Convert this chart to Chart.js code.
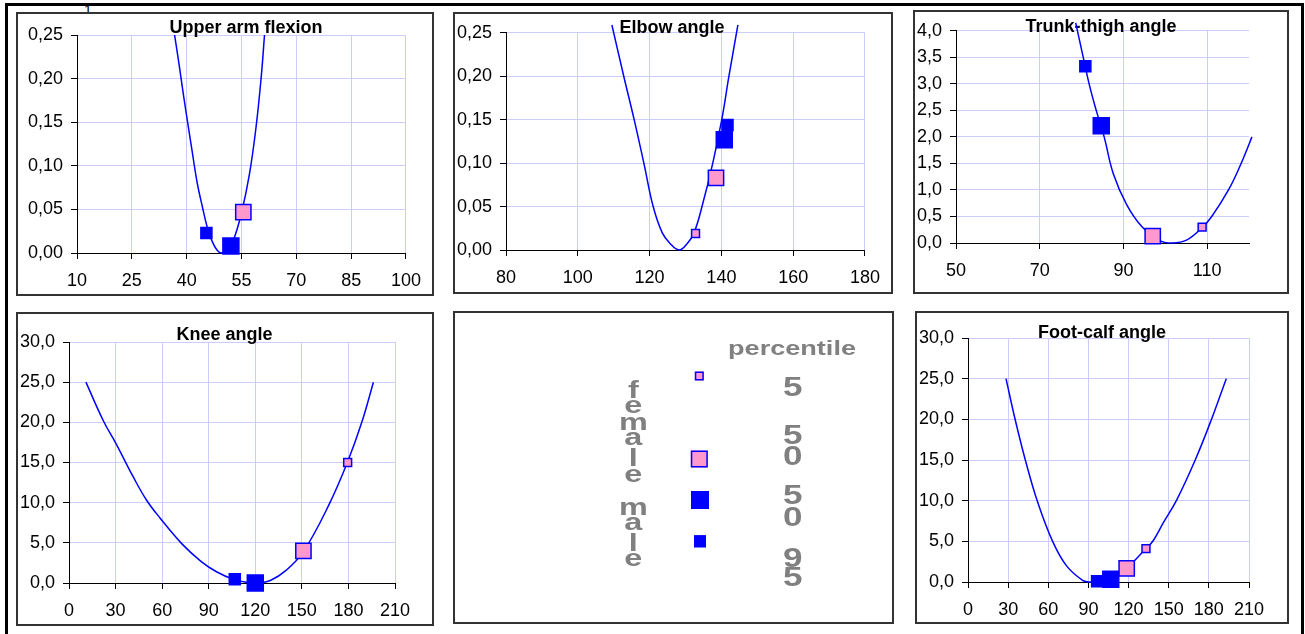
<!DOCTYPE html>
<html>
<head>
<meta charset="utf-8">
<script src="https://cdn.jsdelivr.net/npm/chart.js@4.4.1/dist/chart.umd.min.js"></script>
<style>
  html, body { margin:0; padding:0; background:#fff; }
  body { width:1305px; height:634px; overflow:hidden; position:relative; font-family:"Liberation Sans", Arial, sans-serif; }
  .frame { position:absolute; left:5px; top:3px; width:1299px; height:700px; box-sizing:border-box;
           border-top:3px solid #000; border-left:3px solid #000; border-right:3px solid #000; }
  .panel { position:absolute; box-sizing:border-box; border:2px solid #333; background:#fff; }
  .panel canvas { display:block; }
  .one { position:absolute; left:84px; top:3px; font-size:14px; line-height:14px; color:#000; }
</style>
</head>
<body>
<div class="frame"></div>
<div class="one">1</div>
<div class="panel" style="left:16px;top:12px;width:418px;height:284px"><canvas id="c1" width="414" height="280"></canvas></div>
<div class="panel" style="left:453px;top:12px;width:440px;height:282px"><canvas id="c2" width="436" height="278"></canvas></div>
<div class="panel" style="left:913px;top:10px;width:376px;height:284px"><canvas id="c3" width="372" height="280"></canvas></div>
<div class="panel" style="left:16px;top:312px;width:418px;height:314px"><canvas id="c4" width="414" height="310"></canvas></div>
<div class="panel" style="left:453px;top:311px;width:441px;height:313px"><canvas id="leg" width="437" height="309"></canvas></div>
<div class="panel" style="left:915px;top:311px;width:374px;height:313px"><canvas id="c6" width="370" height="309"></canvas></div>
<script>
// ---------------- DATA ----------------
// marker order in every *Markers array: [female 5th, female 50th, male 50th, male 95th]
const titles = ["Upper arm flexion", "Elbow angle", "Trunk-thigh angle", "Knee angle", "Foot-calf angle"];

const upperArmCurve = [[36.7,0.25],[38.0,0.214],[39.2,0.179],[40.3,0.149],[41.6,0.114],[42.9,0.080],[44.3,0.053],[45.6,0.030],[47.0,0.013],[48.3,0.0034],[49.4,0],[51.0,0.003],[52.8,0.015],[55.0,0.046],[57.2,0.091],[59.0,0.145],[60.4,0.202],[61.3,0.25]];
const upperArmMarkers = [null, [55.5,0.047], [52.1,0.008], [45.4,0.023]];
const upperArmXTicks = [10, 25, 40, 55, 70, 85, 100];

const elbowCurve = [[109.5,0.259],[112.8,0.20],[115.7,0.15],[118.4,0.10],[121.0,0.05],[123.5,0.02],[125.7,0.0075],[128.2,0],[130.5,0.0075],[132.4,0.02],[134.6,0.05],[137.6,0.10],[140.1,0.15],[142.1,0.20],[144.6,0.259]];
const elbowMarkers = [[132.8,0.019], [138.5,0.083], [140.8,0.127], [141.7,0.144]];
const elbowXTicks = [80, 100, 120, 140, 160, 180];

const trunkCurve = [[78.6,4.15],[80.4,3.5],[81.8,3.0],[83.5,2.5],[85.4,2.0],[87.6,1.3],[90.8,0.72],[94.5,0.3],[98.5,0.05],[101.6,0],[105.2,0.06],[108.8,0.29],[111.1,0.5],[115.1,1.0],[117.9,1.46],[120.7,2.0],[122.1,2.29]];
const trunkMarkers = [[108.8,0.30], [97.0,0.13], [84.7,2.21], [80.9,3.33]];
const trunkXTicks = [50, 70, 90, 110];

const kneeCurve = [[10.9,25],[22.1,20.2],[30.7,17.2],[41.4,13.2],[50,10.3],[58.6,8.1],[72.6,4.9],[85,2.7],[95,1.4],[106,0.45],[114,0.1],[121,0],[130,0.35],[140,1.6],[151,3.9],[167.1,9.6],[179.3,15],[188.6,20],[196.1,25]];
const kneeMarkers = [[179.5,15.0], [151,4.0], [120,0.0], [106.8,0.46]];
const kneeXTicks = [0, 30, 60, 90, 120, 150, 180, 210];

const footCurve = [[28.4,25],[35.5,19.8],[43.5,14.6],[52.3,9.7],[63.5,4.9],[73.8,1.95],[86.2,0.15],[91.2,0],[96,0.05],[103.1,0.33],[110.5,0.9],[118.6,1.75],[126,2.9],[133,4.1],[138.5,5.1],[146,7.3],[156,10.1],[169.8,15],[181.5,19.8],[193,25]];
const footMarkers = [[133,4.1], [118.6,1.68], [106.7,0.33], [96.5,0.08]];
const footXTicks = [0, 30, 60, 90, 120, 150, 180, 210];

const legendPercentiles = ["5", "50", "50", "95"];
const legendGroups = ["female", "male"];

// ---------------- STYLE ----------------
const FONT = '"Liberation Sans", Arial, sans-serif';
const BLUE = '#0000ff';
const PINK = '#ff99cc';
const markerStyles = [
  { bg: PINK, r: 5.6 },
  { bg: PINK, r: 10.8 },
  { bg: BLUE, r: 11.3 },
  { bg: BLUE, r: 7.8 }
];

const titlePlugin = {
  id: 'ptitle',
  beforeDatasetsDraw(chart, args, opts) {
    const ctx = chart.ctx;
    ctx.save();
    ctx.font = 'bold 18px ' + FONT;
    ctx.fillStyle = '#000';
    ctx.textAlign = 'center';
    ctx.textBaseline = 'middle';
    ctx.fillText(opts.text, opts.x, opts.y);
    ctx.restore();
  }
};

function makeChart(id, o) {
  const datasets = [];
  o.markers.forEach((m, i) => {
    if (!m) return;
    datasets.push({
      data: [{ x: m[0], y: m[1] }],
      pointStyle: 'rect',
      pointRadius: markerStyles[i].r,
      pointHoverRadius: markerStyles[i].r,
      pointBackgroundColor: markerStyles[i].bg,
      pointBorderColor: BLUE,
      pointBorderWidth: 1.5,
      clip: false,
      order: i + 1
    });
  });
  datasets.push({
    data: o.curve.map(p => ({ x: p[0], y: p[1] })),
    showLine: true,
    borderColor: BLUE,
    borderWidth: 1.5,
    pointRadius: 0,
    pointHoverRadius: 0,
    tension: 0.4,
    clip: false,
    order: 10
  });
  return new Chart(document.getElementById(id), {
    type: 'scatter',
    data: { datasets },
    options: {
      responsive: false,
      animation: false,
      devicePixelRatio: 1,
      events: [],
      layout: { padding: { left: 0, top: o.top, right: o.right, bottom: 0 } },
      plugins: {
        legend: { display: false },
        tooltip: { enabled: false },
        ptitle: { text: o.title, x: o.tx, y: o.ty }
      },
      scales: {
        x: {
          type: 'linear', min: o.xmin, max: o.xmax,
          afterFit: s => { s.height = o.xh; },
          afterBuildTicks: s => { s.ticks = o.xticks.map(v => ({ value: v })); },
          ticks: { autoSkip: false, maxRotation: 0,
                   font: { family: FONT, size: 18 }, color: '#000', padding: 11,
                   callback: v => String(Math.round(v)) },
          grid: { color: '#ccccff', lineWidth: 1, tickColor: '#000', tickLength: 6 },
          border: { color: '#000', width: 1 }
        },
        y: {
          type: 'linear', min: o.ymin, max: o.ymax,
          afterFit: s => { s.width = o.yw; },
          ticks: { stepSize: o.ystep, autoSkip: false,
                   font: { family: FONT, size: 18 }, color: '#000', padding: 8,
                   callback: v => v.toFixed(o.ydec).replace('.', ',') },
          grid: { color: '#ccccff', lineWidth: 1, tickColor: '#000', tickLength: 6 },
          border: { color: '#000', width: 1 }
        }
      }
    },
    plugins: [titlePlugin]
  });
}

makeChart('c1', { title: titles[0], tx: 228, ty: 14, curve: upperArmCurve, markers: upperArmMarkers,
  xmin: 10, xmax: 100, xticks: upperArmXTicks, ymin: 0, ymax: 0.25, ystep: 0.05, ydec: 2,
  top: 21, right: 19, yw: 59, xh: 41 });
makeChart('c2', { title: titles[1], tx: 217, ty: 14, curve: elbowCurve, markers: elbowMarkers,
  xmin: 80, xmax: 180, xticks: elbowXTicks, ymin: 0, ymax: 0.25, ystep: 0.05, ydec: 2,
  top: 13, right: 19, yw: 51, xh: 42 });
makeChart('c3', { title: titles[2], tx: 186, ty: 15, curve: trunkCurve, markers: trunkMarkers,
  xmin: 50, xmax: 120, xticks: trunkXTicks, ymin: 0, ymax: 4, ystep: 0.5, ydec: 1,
  top: 13, right: 38, yw: 41, xh: 49 });
makeChart('c4', { title: titles[3], tx: 206.5, ty: 21, curve: kneeCurve, markers: kneeMarkers,
  xmin: 0, xmax: 210, xticks: kneeXTicks, ymin: 0, ymax: 30, ystep: 5, ydec: 1,
  top: 28, right: 37, yw: 51, xh: 41 });
makeChart('c6', { title: titles[4], tx: 185, ty: 20, curve: footCurve, markers: footMarkers,
  xmin: 0, xmax: 210, xticks: footXTicks, ymin: 0, ymax: 30, ystep: 5, ydec: 1,
  top: 25, right: 38, yw: 51, xh: 40 });

// ---------------- LEGEND PANEL ----------------
(function drawLegend() {
  const ctx = document.getElementById('leg').getContext('2d');
  const GRAY = '#808080';
  function txt(t, cx, base, size, sx) {
    ctx.save();
    ctx.translate(cx, base);
    ctx.scale(sx, 1);
    ctx.font = 'bold ' + size + 'px ' + FONT;
    ctx.fillStyle = GRAY;
    ctx.textAlign = 'center';
    ctx.textBaseline = 'alphabetic';
    ctx.fillText(t, 0, 0);
    ctx.restore();
  }
  txt('percentile', 337, 42, 21, 1.29);
  const digitBases = [[83], [131, 152], [191, 212.7], [253.7, 273]];
  legendPercentiles.forEach((p, i) => {
    p.split('').forEach((ch, j) => txt(ch, 337.7, digitBases[i][j], 27, 1.3));
  });
  const groupBases = [[85, 100.3, 117, 132, 153, 168.7], [202, 217, 237.7, 253]];
  legendGroups.forEach((g, i) => {
    g.split('').forEach((ch, j) => txt(ch, 178.3, groupBases[i][j], 24, 1.35));
  });
  const keys = [[244.3, 63, 9], [244.3, 146, 17], [245, 187, 18], [245, 228.3, 12]];
  keys.forEach((k, i) => {
    const s = k[2];
    ctx.fillStyle = markerStyles[i].bg;
    ctx.fillRect(k[0] - s / 2, k[1] - s / 2, s, s);
    ctx.strokeStyle = BLUE;
    ctx.lineWidth = 1.5;
    ctx.strokeRect(k[0] - s / 2 + 0.75, k[1] - s / 2 + 0.75, s - 1.5, s - 1.5);
  });
})();
</script>
</body>
</html>
